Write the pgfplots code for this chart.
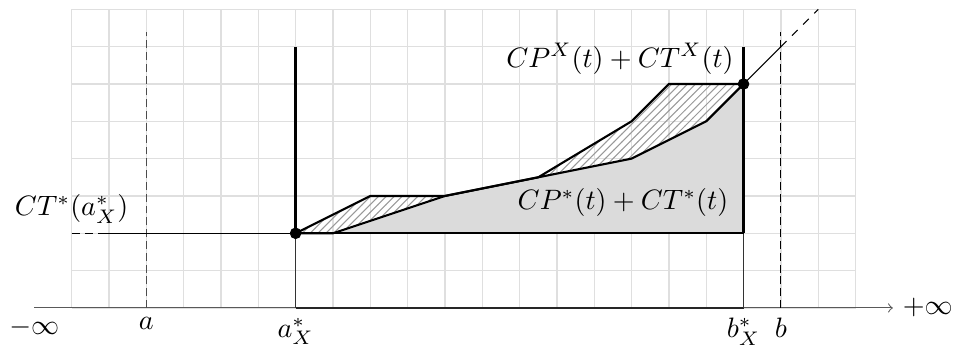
\documentclass[border=0pt]{standalone}
\usepackage{pgfplots}
\pgfplotsset{compat=1.18}
\usetikzlibrary{patterns}
\begin{document}
\begin{tikzpicture}[every node/.append style={scale=1.07}]
\begin{axis}[
  x=0.5cm, y=0.5cm,
  xmin=0, xmax=21, ymin=0, ymax=8,
  xtick={0,...,21}, ytick={0,...,8},
  xticklabels={}, yticklabels={},
  major tick length=0pt,
  axis line style={draw=none},
  grid=major, grid style={gray!25, line width=0.5pt},
  clip=false,
]
% hatched band between the two cost curves
\addplot[draw=none, pattern=north east lines, pattern color=gray!80]
  coordinates {(6,2) (8,3) (10,3) (12.5,3.5) (15,5) (16,6) (18,6) (18,2)};
% shaded area under CP*+CT*
\addplot[draw=none, fill=gray!28]
  coordinates {(6,2) (7,2) (10,3) (12.5,3.5) (15,4) (17,5) (18,6) (18,2)};

% horizontal axis
\addplot[thin, black!65, ->] coordinates {(-1,0) (22,0)};
\addplot[semithick, black!85] coordinates {(6,0) (18,0)};

% verticals
\addplot[thin, black!80] coordinates {(6,0) (6,2)};
\addplot[thin, black!80] coordinates {(18,0) (18,2)};
\addplot[line width=1.1pt] coordinates {(6,2) (6,7)};
\addplot[line width=1.1pt] coordinates {(18,2) (18,7)};
\addplot[dashed, black!70, dash pattern=on 3pt off 1.5pt] coordinates {(2,0) (2,7.4)};
\addplot[dashed, dash pattern=on 3pt off 1.5pt] coordinates {(19,0) (19,7.4)};

% CT* level
\addplot[thin, dashed, dash pattern=on 3pt off 2pt] coordinates {(0,2) (0.8,2)};
\addplot[thin] coordinates {(0.8,2) (6,2)};
\addplot[thick] coordinates {(6,2) (18,2)};

% curves
\addplot[thick] coordinates {(6,2) (8,3) (10,3) (12.5,3.5) (15,5) (16,6) (18,6)};
\addplot[thick] coordinates {(6,2) (7,2) (10,3) (12.5,3.5) (15,4) (17,5) (18,6)};

% diagonal
\addplot[thin] coordinates {(18,6) (19,7)};
\addplot[thin, dashed] coordinates {(19,7) (20,8)};

% points
\addplot[only marks, mark=*, mark size=2pt] coordinates {(6,2) (18,6)};

% labels
\node[below] at (axis cs:-1,0) {$-\infty$};
\node[below] at (axis cs:2,0) {$a$};
\node[below] at (axis cs:6,0) {$a_X^*$};
\node[below] at (axis cs:18,0) {$b_X^*$};
\node[below] at (axis cs:19,0) {$b$};
\node[right] at (axis cs:22,0) {$+\infty$};
\node[above] at (axis cs:0,2) {$CT^*(a_X^*)$};
\node[above left] at (axis cs:18,6) {$CP^X(t)+CT^X(t)$};
\node at (axis cs:14.77,2.82) {$CP^*(t)+CT^*(t)$};
\end{axis}
\end{tikzpicture}
\end{document}
